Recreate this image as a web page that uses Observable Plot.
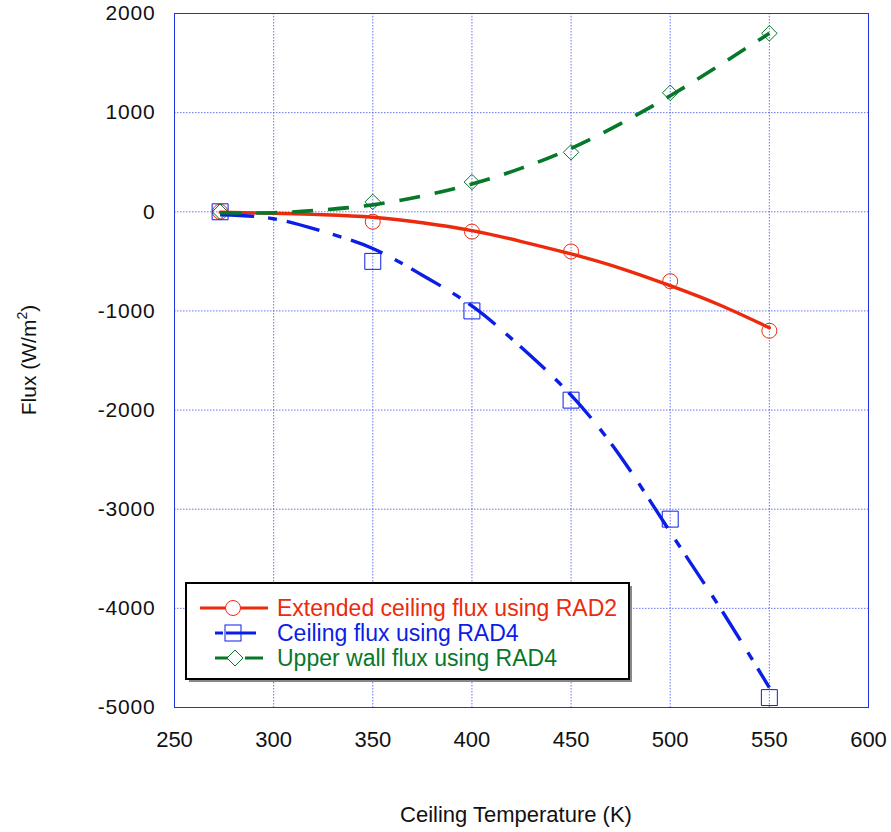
<!DOCTYPE html>
<html><head><meta charset="utf-8">
<script src="https://cdn.jsdelivr.net/npm/d3@7"></script>
<script src="https://cdn.jsdelivr.net/npm/@observablehq/plot@0.6"></script>
<style>
body{margin:0;background:#fff;}
#wrap{position:relative;width:891px;height:832px;}
</style></head><body><div id="wrap"></div>
<script>
// measured points
const temps = [273, 350, 400, 450, 500, 550];
const rad2Ceiling = [0, -100, -200, -400, -700, -1200];
const rad4Ceiling = [0, -500, -1000, -1900, -3100, -4900];
const rad4Wall = [0, 100, 300, 600, 1200, 1800];
// fitted curves
const fitTemps = [273, 300, 325, 350, 375, 400, 425, 450, 475, 500, 525, 550];
const fitRad2 = [-5, -15, -30, -55, -110, -190, -300, -425, -570, -745, -940, -1170];
const fitRad4Ceiling = [-30, -70, -200, -370, -640, -950, -1370, -1850, -2470, -3230, -3990, -4800];
const fitRad4Wall = [-10, -10, 20, 70, 160, 280, 440, 640, 890, 1170, 1480, 1800];
const xTicks = [250, 300, 350, 400, 450, 500, 550, 600];
const yTicks = [-5000, -4000, -3000, -2000, -1000, 0, 1000, 2000];
const seriesNames = ["Extended ceiling flux using RAD2", "Ceiling flux using RAD4", "Upper wall flux using RAD4"];
const colors = ["#ec2a0c", "#0a1ee6", "#06782a"];
const xTitle = "Ceiling Temperature (K)";

const REG = "'Liberation Sans', Arial, Helvetica, sans-serif";

const pts = (ys) => temps.map((t, i) => ({x: t, y: ys[i]}));
const fit = (ys) => fitTemps.map((t, i) => ({x: t, y: ys[i]}));

const gridStyle = {stroke: "#3f52ee", strokeOpacity: 1, strokeWidth: 0.8, strokeDasharray: "1.5,1.5"};

const chart = Plot.plot({
  width: 891, height: 832,
  marginLeft: 174, marginRight: 23, marginTop: 13, marginBottom: 125,
  x: {domain: [250, 600], label: null},
  y: {domain: [-5000, 2000], label: null},
  style: {background: "white", fontFamily: REG},
  marks: [
    Plot.gridX(xTicks, gridStyle),
    Plot.gridY(yTicks, gridStyle),
    Plot.frame({stroke: "#1f33e0", strokeWidth: 1}),
    Plot.axisX(xTicks, {tickSize: 0, tickPadding: 24, fontSize: 22, fill: "#111", tickFormat: d => String(d), label: null}),
    Plot.axisY(yTicks, {tickSize: 0, tickPadding: 19, fontSize: 21, fill: "#111", tickFormat: d => String(d), label: null}),
    Plot.dot(pts(rad2Ceiling), {x: "x", y: "y", symbol: "circle", r: 7.5, stroke: colors[0], strokeWidth: 1, fill: "none"}),
    Plot.dot(pts(rad4Ceiling), {x: "x", y: "y", symbol: "square", r: 9, stroke: colors[1], strokeWidth: 1, fill: "none"}),
    Plot.dot(pts(rad4Wall), {x: "x", y: "y", symbol: "diamond2", r: 7, stroke: colors[2], strokeWidth: 1, fill: "none"}),
    Plot.line(fit(fitRad2), {x: "x", y: "y", stroke: colors[0], strokeWidth: 3.4, curve: "natural"}),
    Plot.line(fit(fitRad4Ceiling), {x: "x", y: "y", stroke: colors[1], strokeWidth: 3.4, curve: "natural", strokeDasharray: "34,14,9,10", strokeLinecap: "butt"}),
    Plot.line(fit(fitRad4Wall), {x: "x", y: "y", stroke: colors[2], strokeWidth: 3.6, curve: "natural", strokeDasharray: "21,15", strokeLinecap: "butt"})
  ]
});

document.getElementById("wrap").appendChild(chart);
const svg = d3.select(chart);
// slightly widened y tick labels as in the reference
svg.selectAll("g[aria-label='y-axis tick label'] text").attr("letter-spacing", "0.8px");

// axis titles
const yt = svg.append("text")
  .attr("transform", "translate(36,360) rotate(-90)")
  .attr("text-anchor", "middle")
  .attr("font-family", REG).attr("font-size", 21).attr("fill", "#111");
yt.append("tspan").text("Flux (W/m");
yt.append("tspan").attr("font-size", 14).attr("dy", -9).text("2");
yt.append("tspan").attr("dy", 9).text(")");

svg.append("text").attr("x", 516).attr("y", 822)
  .attr("text-anchor", "middle").attr("font-family", REG).attr("font-size", 22).attr("fill", "#111")
  .text(xTitle);

// legend
const lg = svg.append("g").attr("text-anchor", "start");
lg.append("rect").attr("x", 189).attr("y", 586).attr("width", 443).attr("height", 96).attr("fill", "#888");
lg.append("rect").attr("x", 186).attr("y", 583).attr("width", 443).attr("height", 96).attr("fill", "white").attr("stroke", "black").attr("stroke-width", 2);
const rows = [
  {y: 608, x1: 200, x2: 268, mx: 233, sym: "circle", dash: null},
  {y: 633, x1: 215, x2: 263, mx: 233, sym: "square", dash: "8,3,30"},
  {y: 658, x1: 215, x2: 263, mx: 235, sym: "diamond", dash: "14,16,20"}
];
rows.forEach((r, i) => {
  const ln = lg.append("line").attr("x1", r.x1).attr("x2", r.x2).attr("y1", r.y).attr("y2", r.y)
    .attr("stroke", colors[i]).attr("stroke-width", 3.2);
  if (r.dash) ln.attr("stroke-dasharray", r.dash);
  if (r.sym === "circle") lg.append("circle").attr("cx", r.mx).attr("cy", r.y).attr("r", 7.5).attr("fill", "white").attr("stroke", colors[i]);
  if (r.sym === "square") lg.append("rect").attr("x", r.mx - 8).attr("y", r.y - 8).attr("width", 16).attr("height", 16).attr("fill", "none").attr("stroke", colors[i]);
  if (r.sym === "diamond") lg.append("path").attr("d", `M${r.mx - 8},${r.y}L${r.mx},${r.y - 8}L${r.mx + 8},${r.y}L${r.mx},${r.y + 8}Z`).attr("fill", "white").attr("stroke", colors[i]);
  lg.append("text").attr("x", 277).attr("y", r.y).attr("dy", "0.36em").attr("text-anchor", "start")
    .attr("font-family", REG).attr("font-size", 23).attr("fill", colors[i]).text(seriesNames[i]);
});
</script></body></html>
